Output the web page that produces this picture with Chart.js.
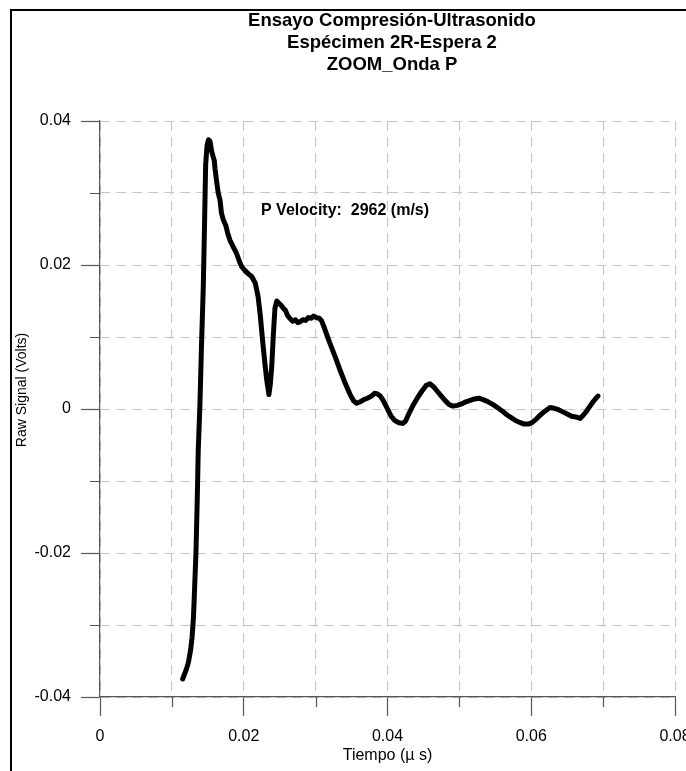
<!DOCTYPE html>
<html>
<head>
<meta charset="utf-8">
<title>Ensayo Compresión-Ultrasonido</title>
<script src="https://cdn.jsdelivr.net/npm/chart.js@4.4.1/dist/chart.umd.min.js"></script>
<style>
    html, body { margin: 0; padding: 0; background: #fff; overflow: hidden; }
    #wrap { width: 784px; height: 771px; }
</style>
</head>
<body>
<div id="wrap"><canvas id="myChart" width="784" height="771"></canvas></div>
<script>
// Datos
let titulo = ['Ensayo Compresión-Ultrasonido', 'Espécimen 2R-Espera 2', 'ZOOM_Onda P'];
let ejeX = 'Tiempo (µ s)';
let ejeY = 'Raw Signal (Volts)';
let nota = 'P Velocity:  2962 (m/s)';
let notaX = 0.0224;
let notaY = 0.0275;

let tiempo = [
    0.0115, 0.0120, 0.0123, 0.0126, 0.0128, 0.0130, 0.0131, 0.01335, 0.01353, 0.01367,
    0.0139, 0.0141, 0.01437, 0.01455, 0.0147, 0.0149, 0.0151, 0.0153, 0.01553, 0.0157,
    0.0159, 0.0160, 0.0162, 0.01645, 0.0167, 0.0169, 0.01715, 0.0175, 0.0178, 0.0181,
    0.0185, 0.0190, 0.0194, 0.0197, 0.0201, 0.0206, 0.0211, 0.0216, 0.0220, 0.0223,
    0.0227, 0.0230, 0.0232, 0.0234, 0.0235, 0.0237, 0.0239, 0.0241, 0.02434, 0.0246,
    0.0249, 0.0252, 0.0255, 0.0258, 0.0261, 0.0264, 0.0268, 0.0272, 0.0275, 0.0278,
    0.0282, 0.0286, 0.0290, 0.0294, 0.0297, 0.0301, 0.0305, 0.0308, 0.0312, 0.0316,
    0.0320, 0.0327, 0.0334, 0.0341, 0.0348, 0.0353, 0.0357, 0.0362, 0.0367, 0.0372,
    0.0378, 0.0382, 0.0386, 0.0390, 0.0394, 0.0400, 0.0405, 0.0410, 0.0416, 0.0421,
    0.0425, 0.0430, 0.0436, 0.0442, 0.0448, 0.0454, 0.0459, 0.0464, 0.0469, 0.0474,
    0.0480, 0.0486, 0.0491, 0.0497, 0.0503, 0.0509, 0.0515, 0.0521, 0.0527, 0.0533,
    0.0540, 0.0547, 0.0553, 0.0560, 0.0566, 0.0572, 0.0578, 0.0585, 0.0590, 0.0596,
    0.0601, 0.0607, 0.0613, 0.0619, 0.0626, 0.0632, 0.0638, 0.0644, 0.0650, 0.0656,
    0.0662, 0.0668, 0.0672, 0.0677, 0.0681, 0.0686, 0.0690, 0.0693
];
let senal = [
    -0.0375, -0.0362, -0.0352, -0.0335, -0.0318, -0.0290, -0.0265, -0.0200, -0.0126, -0.0057,
    0.0005, 0.0080, 0.0170, 0.0260, 0.0340, 0.0366, 0.0374, 0.0372, 0.0358, 0.0352,
    0.0345, 0.0334, 0.0318, 0.0300, 0.0290, 0.0272, 0.0263, 0.0255, 0.0243, 0.0234,
    0.0226, 0.0216, 0.0205, 0.0198, 0.0193, 0.0188, 0.0184, 0.0175, 0.0156, 0.0130,
    0.0087, 0.0058, 0.0040, 0.0027, 0.0020, 0.0035, 0.0060, 0.0100, 0.0140, 0.0150,
    0.0147, 0.0144, 0.0140, 0.0137, 0.0130, 0.0126, 0.0122, 0.0124, 0.0120, 0.0121,
    0.0124, 0.0123, 0.0127, 0.0126, 0.0129, 0.0127, 0.0126, 0.0123, 0.0113, 0.0102,
    0.0091, 0.0073, 0.0054, 0.0036, 0.0020, 0.0011, 0.0008, 0.0010, 0.0013, 0.0015,
    0.0018, 0.0022, 0.0021, 0.0018, 0.0012, 0.0000, -0.0010, -0.0016, -0.0019, -0.0020,
    -0.0017, -0.0006, 0.0006, 0.0016, 0.0025, 0.0033, 0.0035, 0.0031, 0.0025, 0.0019,
    0.0012, 0.0006, 0.0004, 0.0005, 0.0007, 0.0010, 0.0012, 0.0014, 0.0015, 0.0013,
    0.0010, 0.0006, 0.0002, -0.0003, -0.0008, -0.0012, -0.0016, -0.0019, -0.0021, -0.0021,
    -0.0019, -0.0014, -0.0008, -0.0003, 0.0002, 0.0001, -0.0001, -0.0004, -0.0007, -0.0010,
    -0.0011, -0.0013, -0.0009, -0.0003, 0.0003, 0.0010, 0.0015, 0.0018
];

const FUENTE = "'Liberation Sans', Arial, sans-serif";
const GRIS = '#555';

function esMayor(v) {
    return Math.abs(Math.round(v * 100)) % 2 === 0;
}
function etiqueta(v) {
    return String(Number(v.toFixed(2)));
}

// marco, titulo, notas y marcas menores
const extras = {
    id: 'extras',
    beforeDraw(chart) {
        const c = chart.ctx;
        c.save();
        c.fillStyle = '#fff';
        c.fillRect(0, 0, chart.width, chart.height);
        c.strokeStyle = '#000';
        c.lineWidth = 2;
        c.strokeRect(11, 10, 760, 800);
        c.restore();
    },
    afterDraw(chart) {
        const c = chart.ctx;
        const sx = chart.scales.x;
        const sy = chart.scales.y;
        c.save();
        c.strokeStyle = GRIS;
        c.lineWidth = 1.2;
        c.beginPath();
        sx.ticks.forEach(t => {
            if (!esMayor(t.value)) {
                const px = Math.round(sx.getPixelForValue(t.value)) + 0.5;
                c.moveTo(px, sy.bottom);
                c.lineTo(px, sy.bottom + 10);
            }
        });
        sy.ticks.forEach(t => {
            if (!esMayor(t.value)) {
                const py = Math.round(sy.getPixelForValue(t.value)) + 0.5;
                c.moveTo(sx.left, py);
                c.lineTo(sx.left - 10, py);
            }
        });
        c.stroke();

        c.fillStyle = '#000';
        c.textAlign = 'center';
        c.textBaseline = 'middle';
        c.font = 'bold 18.5px ' + FUENTE;
        titulo.forEach((linea, i) => c.fillText(linea, 392, 21 + i * 22));

        c.save();
        c.translate(22, 390);
        c.rotate(-Math.PI / 2);
        c.font = '14px ' + FUENTE;
        c.fillText(ejeY, 0, 0);
        c.restore();

        c.textAlign = 'left';
        c.font = 'bold 16px ' + FUENTE;
        c.fillText(nota, sx.getPixelForValue(notaX), sy.getPixelForValue(notaY));
        c.restore();
    }
};

const ejeComun = {
    type: 'linear',
    grid: {
        color: '#c4c4c4',
        lineWidth: 1,
        drawTicks: true,
        tickLength: 19,
        tickWidth: 1.2,
        tickColor: c => esMayor(c.tick.value) ? GRIS : 'rgba(0,0,0,0)'
    },
    border: {
        display: true,
        color: GRIS,
        width: 1.2,
        dash: [10, 6]
    }
};

var ctx = document.getElementById('myChart').getContext('2d');
var grafico = new Chart(ctx, {
    type: 'scatter',
    data: {
        datasets: [{
            data: tiempo.map((t, i) => ({ x: t, y: senal[i] })),
            showLine: true,
            borderColor: '#000',
            borderWidth: 5,
            borderJoinStyle: 'round',
            borderCapStyle: 'round',
            pointRadius: 0,
            tension: 0,
            fill: false
        }]
    },
    options: {
        responsive: false,
        animation: false,
        devicePixelRatio: 1,
        layout: {
            padding: { top: 121, right: 109, bottom: 0, left: 0 }
        },
        plugins: {
            legend: { display: false },
            title: { display: false },
            tooltip: { enabled: false }
        },
        scales: {
            x: {
                ...ejeComun,
                min: 0,
                max: 0.08,
                afterFit: s => { s.height = 74; },
                ticks: {
                    stepSize: 0.01,
                    autoSkip: false,
                    maxRotation: 0,
                    padding: 11,
                    color: '#000',
                    font: { family: FUENTE, size: 16 },
                    callback: v => esMayor(v) ? etiqueta(v) : ''
                },
                title: {
                    display: true,
                    text: ejeX,
                    color: '#000',
                    font: { family: FUENTE, size: 16 },
                    padding: { top: 0, bottom: 6 }
                }
            },
            y: {
                ...ejeComun,
                min: -0.04,
                max: 0.04,
                afterFit: s => { s.width = 100; },
                ticks: {
                    stepSize: 0.01,
                    autoSkip: false,
                    padding: 10,
                    color: '#000',
                    font: { family: FUENTE, size: 16 },
                    callback: v => esMayor(v) ? etiqueta(v) : ''
                }
            }
        }
    },
    plugins: [extras]
});
</script>
</body>
</html>
